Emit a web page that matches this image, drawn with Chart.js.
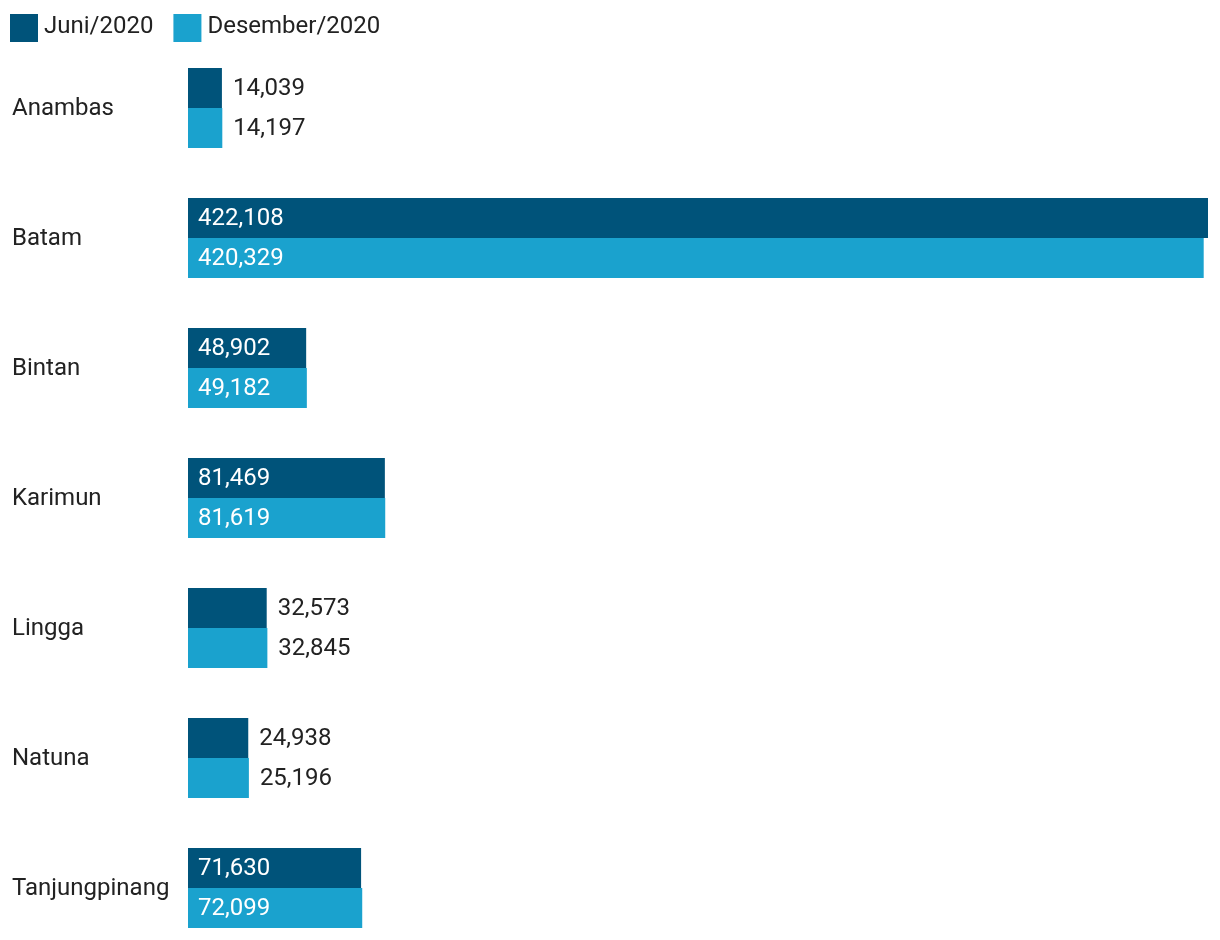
<!DOCTYPE html>
<html>
<head>
<meta charset="utf-8">
<script src="https://cdn.jsdelivr.net/npm/chart.js@4.4.1/dist/chart.umd.min.js"></script>
<style>
    html, body { margin: 0; padding: 0; background: #fff; overflow: hidden; }
    canvas { display: block; }
</style>
</head>
<body>
<canvas id="chart" width="1220" height="960"></canvas>
<script>
const categories = ['Anambas', 'Batam', 'Bintan', 'Karimun', 'Lingga', 'Natuna', 'Tanjungpinang'];
const seriesNames = ['Juni/2020', 'Desember/2020'];
const juni2020 = [14039, 422108, 48902, 81469, 32573, 24938, 71630];
const desember2020 = [14197, 420329, 49182, 81619, 32845, 25196, 72099];
const seriesColors = ['#00537a', '#1aa2ce'];

const FONT = 'Roboto, "Noto Sans", sans-serif';
const TEXT_COLOR = '#222222';

// legend drawn by hand so it sits in the top-left corner
const legendPlugin = {
    id: 'legendPlugin',
    afterDraw(chart) {
        const ctx = chart.ctx;
        ctx.save();
        ctx.font = '24px ' + FONT;
        ctx.textBaseline = 'middle';
        ctx.textAlign = 'left';
        let x = 10;
        chart.data.datasets.forEach(ds => {
            ctx.fillStyle = ds.backgroundColor;
            ctx.fillRect(x, 14, 28, 28);
            ctx.fillStyle = TEXT_COLOR;
            ctx.fillText(ds.label, x + 34, 27);
            x += 34 + ctx.measureText(ds.label).width + 20;
        });
        ctx.restore();
    }
};

// category names on the far left, placed with the y scale
const categoryLabelPlugin = {
    id: 'categoryLabelPlugin',
    afterDraw(chart) {
        const ctx = chart.ctx;
        const yScale = chart.scales.y;
        ctx.save();
        ctx.font = '24px ' + FONT;
        ctx.textBaseline = 'middle';
        ctx.textAlign = 'left';
        ctx.fillStyle = TEXT_COLOR;
        chart.data.labels.forEach((lbl, i) => {
            ctx.fillText(lbl, 12, yScale.getPixelForValue(i) + 1);
        });
        ctx.restore();
    }
};

// value labels: inside the bar (white) if it fits, otherwise after the bar
const valueLabelPlugin = {
    id: 'valueLabelPlugin',
    afterDatasetsDraw(chart) {
        const ctx = chart.ctx;
        ctx.save();
        ctx.font = '24px ' + FONT;
        ctx.textBaseline = 'middle';
        ctx.textAlign = 'left';
        chart.data.datasets.forEach((ds, di) => {
            const meta = chart.getDatasetMeta(di);
            meta.data.forEach((bar, i) => {
                const txt = ds.data[i].toLocaleString('en-US');
                const w = ctx.measureText(txt).width;
                const barW = bar.x - bar.base;
                if (barW > w + 22) {
                    ctx.fillStyle = '#ffffff';
                    ctx.fillText(txt, bar.base + 10, bar.y + 1);
                } else {
                    ctx.fillStyle = TEXT_COLOR;
                    ctx.fillText(txt, bar.x + 11, bar.y + 1);
                }
            });
        });
        ctx.restore();
    }
};

new Chart(document.getElementById('chart'), {
    type: 'bar',
    data: {
        labels: categories,
        datasets: [
            { label: seriesNames[0], data: juni2020, backgroundColor: seriesColors[0] },
            { label: seriesNames[1], data: desember2020, backgroundColor: seriesColors[1] }
        ]
    },
    options: {
        indexAxis: 'y',
        responsive: false,
        animation: false,
        devicePixelRatio: 1,
        categoryPercentage: 80 / 130,
        barPercentage: 1,
        layout: { padding: { left: 12, right: 12, top: 43, bottom: 7 } },
        plugins: {
            legend: { display: false },
            tooltip: { enabled: false }
        },
        scales: {
            x: {
                display: false,
                min: 0,
                max: 422108
            },
            y: {
                grid: { display: false },
                border: { display: false },
                afterFit(scale) { scale.width = 176; },
                ticks: {
                    display: false,
                    font: { family: FONT, size: 24 }
                }
            }
        }
    },
    plugins: [legendPlugin, categoryLabelPlugin, valueLabelPlugin]
});
</script>
</body>
</html>
